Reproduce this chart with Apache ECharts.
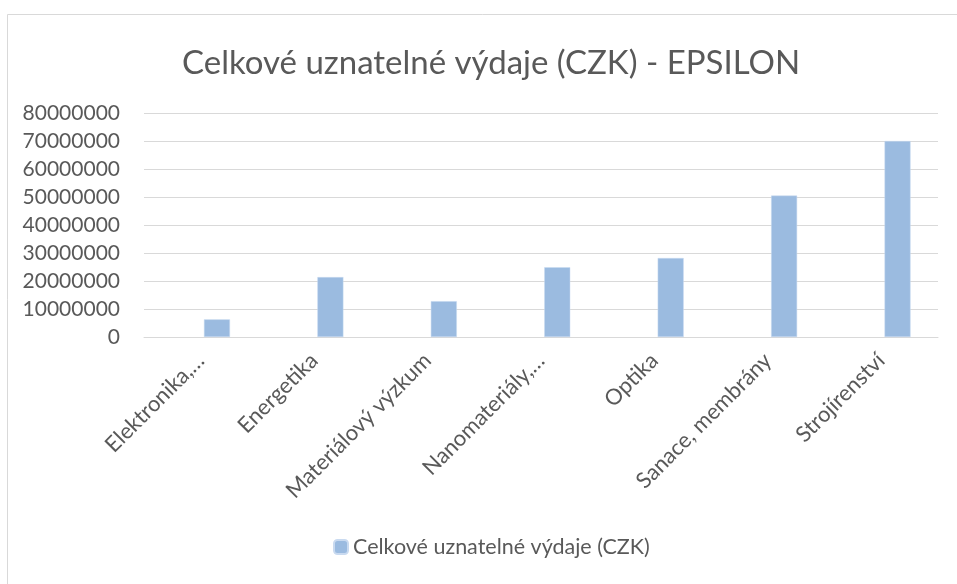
<!DOCTYPE html>
<html>
<head>
<meta charset="utf-8">
<script src="https://cdn.jsdelivr.net/npm/echarts@6/dist/echarts.min.js"></script>
<style>html,body{margin:0;padding:0;background:#fff}#c{width:957px;height:584px}</style>
</head>
<body>
<div id="c"></div>
<script>
const categories = ["Elektronika,…", "Energetika", "Materiálový výzkum", "Nanomateriály,…", "Optika", "Sanace, membrány", "Strojírenství"];
const values = [6300000, 21400000, 12800000, 24900000, 28200000, 50500000, 70000000];
const emptySeries = [null, null, null, null, null, null, null];
const seriesName = "Celkové uznatelné výdaje (CZK)";
const titleText = "Celkové uznatelné výdaje (CZK) - EPSILON";

const font = "Lato, 'Open Sans', sans-serif";
const chart = echarts.init(document.getElementById('c'));
chart.setOption({
  animation: false,
  backgroundColor: '#fff',
  graphic: [{
    type: 'rect', shape: {x: 7.5, y: 14.5, width: 1000, height: 1000},
    style: {fill: 'none', stroke: '#d9d9d9', lineWidth: 1}, silent: true, z: -1
  }],
  title: {
    text: titleText, left: 177, top: 42,
    textStyle: {fontFamily: font, fontSize: 33, fontWeight: 'normal', color: '#595959'}
  },
  legend: {
    data: [seriesName], bottom: 21, left: 328,
    itemWidth: 14, itemHeight: 14, itemGap: 6,
    textStyle: {fontFamily: font, fontSize: 21.5, color: '#595959'}
  },
  grid: {left: 144, right: 19, top: 113, bottom: 247, containLabel: false},
  xAxis: {
    type: 'category', data: categories,
    axisLine: {lineStyle: {color: '#d9d9d9', width: 1}},
    axisTick: {show: false},
    axisLabel: {rotate: 45, interval: 0, margin: 20, fontFamily: font, fontSize: 22, color: '#595959'}
  },
  yAxis: {
    type: 'value', min: 0, max: 80000000, interval: 10000000,
    axisLine: {show: false}, axisTick: {show: false},
    splitLine: {lineStyle: {color: '#d9d9d9', width: 1}},
    axisLabel: {margin: 24, fontFamily: font, fontSize: 21, color: '#595959',
      formatter: function (v) { return String(v); }}
  },
  series: [
    {type: 'bar', name: '_empty', data: emptySeries, barWidth: 26, barGap: '25%'},
    {type: 'bar', name: seriesName, data: values, barWidth: 26, barGap: '25%',
     itemStyle: {color: '#9bbbe0', borderColor: '#c9daf0', borderWidth: 0.5}}
  ],
  color: ['#9bbbe0', '#9bbbe0']
});
</script>
</body>
</html>
